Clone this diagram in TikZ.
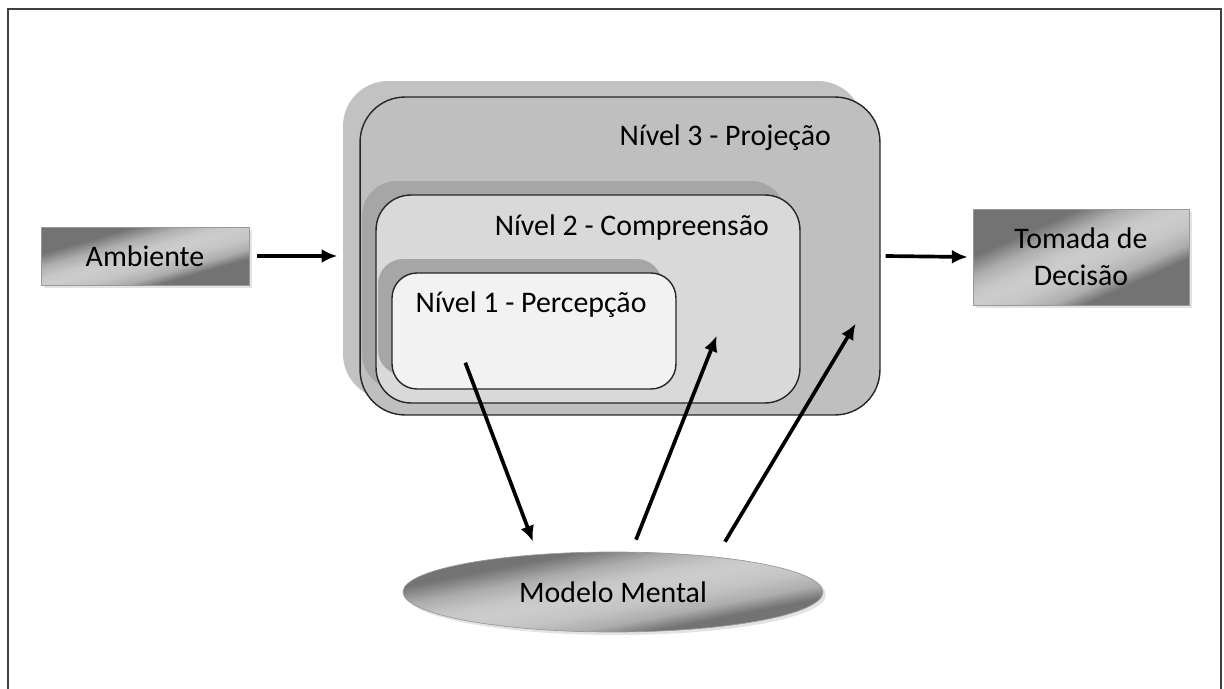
\documentclass[tikz,border=0pt]{standalone}
\usepackage{fontspec}
\setmainfont{Carlito}
\usetikzlibrary{calc,shapes.geometric,shadows,arrows.meta}

\pgfdeclarehorizontalshading{cinza}{100bp}{color(0bp)=(black!55); color(33bp)=(black!55); color(40bp)=(black!32); color(46bp)=(black!22); color(50bp)=(black!20); color(56bp)=(black!23); color(62bp)=(black!32); color(67bp)=(black!55); color(100bp)=(black!55)}

\begin{document}
\begin{tikzpicture}[x=0.02cm, y=-0.02cm,
  texto/.style={font=\fontsize{17}{21}\selectfont},
  bloco/.style={texto, draw=black!40, shading=cinza, shading angle=#1, drop shadow={shadow xshift=0.06cm, shadow yshift=-0.06cm, opacity=0.22}},
  nivel/.style={draw=black!85, line width=0.8pt, rounded corners=#1},
  sombra/.style={rounded corners=#1},
  seta/.style={->, >={Latex[length=9pt,width=8pt]}, line width=2.1pt}]
\useasboundingbox (0,0) rectangle (1224,689);
\draw[black!75, line width=1.2pt] (8,9) rectangle (1221,720);

% niveis
\node[sombra=0.9cm, fill=black!24, minimum width=10.4cm, minimum height=6.36cm] (somtres) at (603,240) {};
\node[nivel=0.9cm, fill=black!25, minimum width=10.4cm, minimum height=6.36cm] (nivtres) at (620,256) {};
\node[sombra=0.7cm, fill=black!35, minimum width=8.48cm, minimum height=4.16cm] (somdois) at (574,285) {};
\node[nivel=0.7cm, fill=black!15, minimum width=8.48cm, minimum height=4.16cm] (nivdois) at (588,299) {};
\node[sombra=0.5cm, fill=black!35, minimum width=5.68cm, minimum height=2.32cm] (somum) at (520,317) {};
\node[nivel=0.5cm, fill=black!5, minimum width=5.68cm, minimum height=2.32cm] (nivum) at (534,331) {};

\node[texto, anchor=east] (ttres) at (837,138) {Nível 3 - Projeção};
\node[texto, anchor=east] (tdois) at (775,228) {Nível 2 - Compreensão};
\node[texto] (tum) at (531,305) {Nível 1 - Percepção};

\node[bloco=-74, minimum width=4.16cm, minimum height=1.16cm] (ambiente) at (145,256) {Ambiente};
\node[bloco=-66, align=center, minimum width=4.32cm, minimum height=1.92cm] (tomada) at (1081,257) {Tomada de\\Decisão};
\node[bloco=-79, ellipse, minimum width=8.4cm, minimum height=1.6cm] (mental) at (613,592) {Modelo Mental};

\draw[seta] ($(ambiente.east)+(8,0)$) -- ($(nivtres.west)+(-22,0)$);
\draw[seta] ($(nivtres.east)+(5,0)$) -- ($(tomada.west)+(-5,0)$);
\draw[seta] ($(nivum.south west)+(74,-27)$) -- ($(mental.north)+(-80,-10)$);
\draw[seta] ($(mental.north)+(23,-12)$) -- ($(nivdois.south east)+(-84,-68)$);
\draw[seta] ($(mental.north)+(112,-10)$) -- ($(nivtres.south east)+(-25,-92)$);

\end{tikzpicture}
\end{document}
